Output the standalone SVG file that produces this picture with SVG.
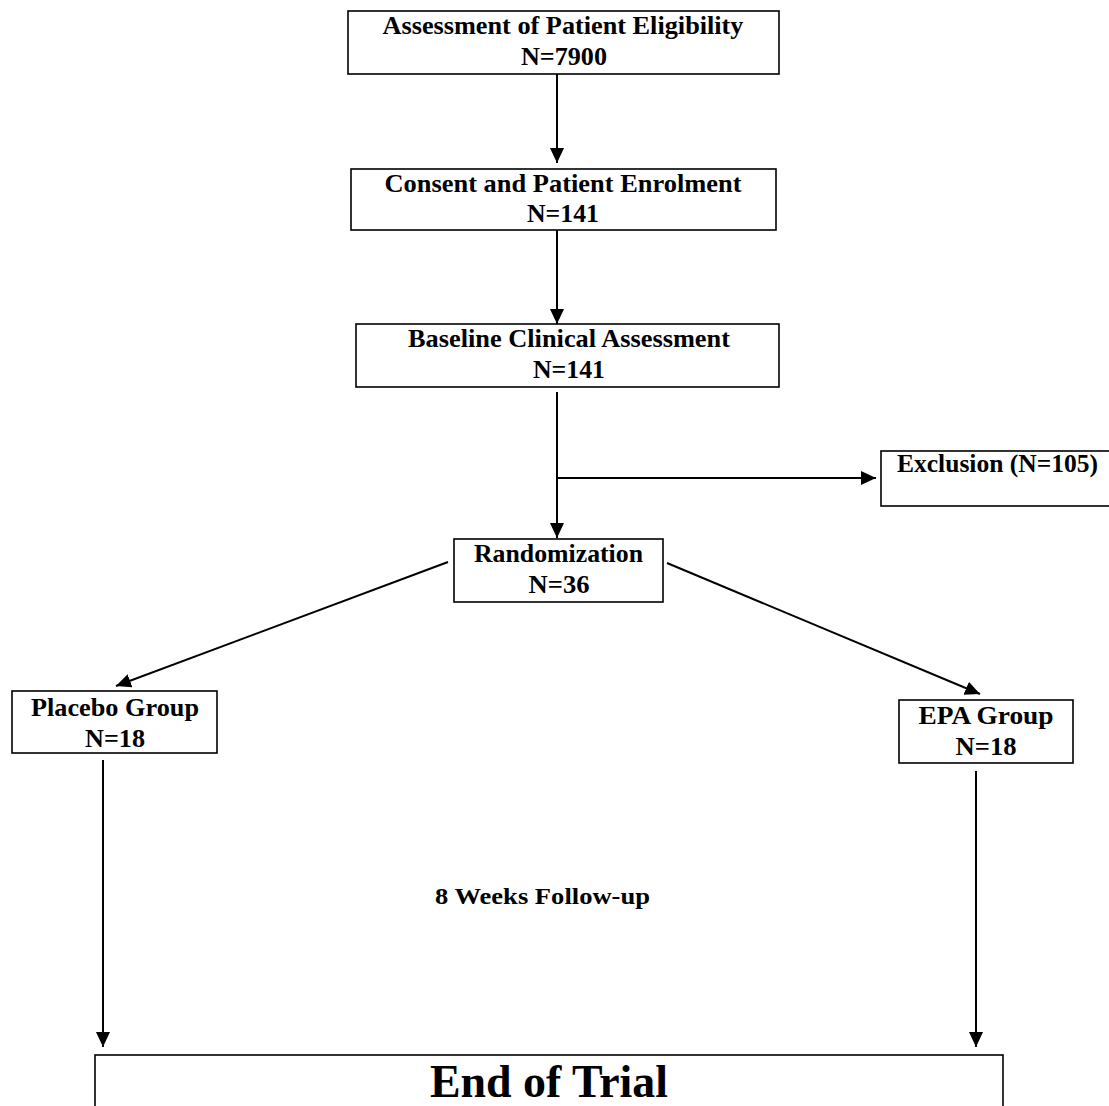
<svg xmlns="http://www.w3.org/2000/svg" width="1109" height="1106" viewBox="0 0 1109 1106">
<defs>
<marker id="ah" markerUnits="userSpaceOnUse" markerWidth="16" markerHeight="14" refX="15" refY="7" orient="auto">
<path d="M0,0 L15,7 L0,14 Z" fill="#000"/>
</marker>
<style>
.box{fill:#fff;stroke:#000;stroke-width:1.6}
.t{font-family:"Liberation Serif","Times New Roman",serif;font-weight:bold;font-size:25px;fill:#000;text-anchor:middle}
.c{stroke:#000;stroke-width:2;fill:none}
</style>
</defs>
<rect width="1109" height="1106" fill="#fff"/>
<g id="connectors">
<line class="c" x1="557" y1="74" x2="557" y2="163" marker-end="url(#ah)"/>
<line class="c" x1="557" y1="230" x2="557" y2="324" marker-end="url(#ah)"/>
<line class="c" x1="557" y1="392" x2="557" y2="538" marker-end="url(#ah)"/>
<line class="c" x1="557" y1="478" x2="876" y2="478" marker-end="url(#ah)"/>
<line class="c" x1="448" y1="562" x2="116" y2="686" marker-end="url(#ah)"/>
<line class="c" x1="667" y1="563" x2="980" y2="694" marker-end="url(#ah)"/>
<line class="c" x1="103" y1="760" x2="103" y2="1047" marker-end="url(#ah)"/>
<line class="c" x1="976" y1="771" x2="976" y2="1047" marker-end="url(#ah)"/>
</g>
<g id="n1">
<rect class="box" x="348" y="11" width="431" height="63"/>
<text class="t" x="563" y="34" textLength="361" lengthAdjust="spacingAndGlyphs">Assessment of Patient Eligibility</text>
<text class="t" x="564" y="65" textLength="86" lengthAdjust="spacingAndGlyphs">N=7900</text>
</g>
<g id="n2">
<rect class="box" x="351" y="169" width="425" height="61"/>
<text class="t" x="563" y="192" textLength="357" lengthAdjust="spacingAndGlyphs">Consent and Patient Enrolment</text>
<text class="t" x="563" y="222" textLength="72" lengthAdjust="spacingAndGlyphs">N=141</text>
</g>
<g id="n3">
<rect class="box" x="356" y="324" width="423" height="63"/>
<text class="t" x="569" y="347" textLength="322" lengthAdjust="spacingAndGlyphs">Baseline Clinical Assessment</text>
<text class="t" x="569" y="378" textLength="72" lengthAdjust="spacingAndGlyphs">N=141</text>
</g>
<g id="n4">
<rect class="box" x="881" y="451" width="240" height="55"/>
<text class="t" x="997.5" y="472" textLength="201" lengthAdjust="spacingAndGlyphs">Exclusion (N=105)</text>
</g>
<g id="n5">
<rect class="box" x="454" y="539" width="209" height="63"/>
<text class="t" x="558.5" y="562" textLength="169" lengthAdjust="spacingAndGlyphs">Randomization</text>
<text class="t" x="559" y="593" textLength="61" lengthAdjust="spacingAndGlyphs">N=36</text>
</g>
<g id="n6">
<rect class="box" x="12" y="691" width="205" height="62"/>
<text class="t" x="115" y="716" textLength="168" lengthAdjust="spacingAndGlyphs">Placebo Group</text>
<text class="t" x="115" y="747" textLength="60" lengthAdjust="spacingAndGlyphs">N=18</text>
</g>
<g id="n7">
<rect class="box" x="899" y="700" width="174" height="63"/>
<text class="t" x="986" y="724" textLength="135" lengthAdjust="spacingAndGlyphs">EPA Group</text>
<text class="t" x="986" y="755" textLength="61" lengthAdjust="spacingAndGlyphs">N=18</text>
</g>
<g id="label">
<text class="t" x="542.5" y="904" style="font-size:24px" textLength="215" lengthAdjust="spacingAndGlyphs">8 Weeks Follow-up</text>
</g>
<g id="n8">
<rect class="box" x="95" y="1055" width="908" height="70"/>
<text class="t" x="549" y="1097" style="font-size:47px" textLength="238" lengthAdjust="spacingAndGlyphs">End of Trial</text>
</g>
</svg>
